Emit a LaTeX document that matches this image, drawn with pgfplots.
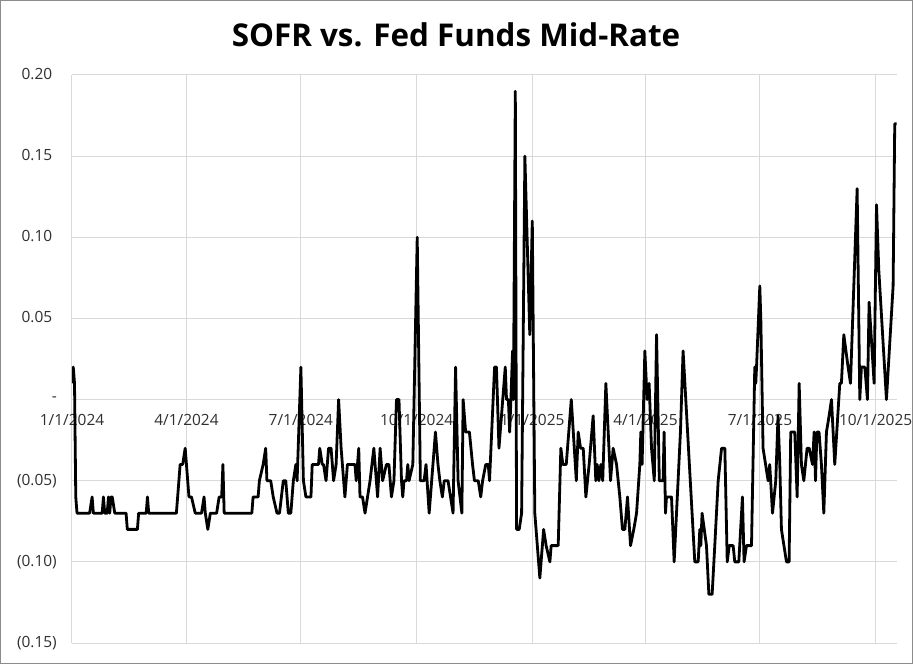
\documentclass[border=0pt]{standalone}
\usepackage{pgfplots}
\pgfplotsset{compat=1.18}
\usepackage{fontspec}
\setmainfont{Open Sans}
\definecolor{gridgray}{HTML}{D9D9D9}
\definecolor{labelgray}{HTML}{303030}
\definecolor{framegray}{HTML}{8C8C8C}

\begin{document}
\begin{tikzpicture}
% frame of the chart area (image border)
\draw[framegray, line width=1.5bp, fill=white] (-71.25bp,-20.25bp) rectangle (840.25bp,642.25bp);
\node[font=\bfseries\fontsize{31.5}{36}\selectfont, anchor=center] at (384bp,608bp) {SOFR vs. Fed Funds Mid-Rate};
\begin{axis}[
  at={(0,0)}, anchor=south west,
  scale only axis,
  width=825bp, height=568bp,
  xmin=0, xmax=656,
  ymin=-0.15, ymax=0.20,
  axis x line*=middle,
  axis y line*=left,
  hide obscured x ticks=false,
  hide obscured y ticks=false,
  axis line style={draw=none},
  major tick length=0pt,
  % days since 1/1/2024
  xtick={0,91,182,274,366,456,547,639},
  xticklabels={1/1/2024,4/1/2024,7/1/2024,10/1/2024,1/1/2025,4/1/2025,7/1/2025,10/1/2025},
  ytick={-0.15,-0.10,-0.05,0,0.05,0.10,0.15,0.20},
  yticklabels={(0.15),(0.10),(0.05),{-\hspace{15bp}},0.05\phantom{)},0.10\phantom{)},0.15\phantom{)},0.20\phantom{)}},
  grid=major,
  major grid style={gridgray, line width=1bp},
  ticklabel style={font=\fontsize{15.5}{18}\selectfont, text=labelgray, inner sep=0pt},
  xticklabel style={anchor=north, yshift=-15bp},
  yticklabel style={anchor=east, xshift=-15bp},
]
\addplot[black, line width=2.8bp, line join=round, no marks] coordinates {
(0,0.01)(1,0.02)(2,0.01)(3,-0.06)(4,-0.07)(14,-0.07)(16,-0.06)(17,-0.07)(24,-0.07)(25,-0.06)
(26,-0.07)(28,-0.07)(29,-0.06)(30,-0.07)(31,-0.06)(32,-0.06)(34,-0.07)(43,-0.07)(44,-0.08)(52,-0.08)
(53,-0.07)(59,-0.07)(60,-0.06)(61,-0.07)(83,-0.07)(84,-0.06)(86,-0.04)(88,-0.04)(90,-0.03)(91,-0.04)
(93,-0.06)(95,-0.06)(98,-0.07)(103,-0.07)(105,-0.06)(106,-0.07)(108,-0.08)(110,-0.07)(115,-0.07)(117,-0.06)
(119,-0.06)(120,-0.04)(121,-0.07)(143,-0.07)(144,-0.06)(148,-0.06)(149,-0.05)(152,-0.04)(154,-0.03)(155,-0.05)
(158,-0.05)(160,-0.06)(163,-0.07)(165,-0.07)(168,-0.05)(170,-0.05)(172,-0.07)(174,-0.07)(176,-0.05)(178,-0.04)
(179,-0.05)(182,0.02)(184,-0.05)(186,-0.06)(190,-0.06)(191,-0.04)(196,-0.04)(197,-0.03)(199,-0.04)(200,-0.04)
(202,-0.05)(204,-0.03)(206,-0.03)(208,-0.05)(210,-0.04)(212,0.00)(214,-0.03)(217,-0.06)(219,-0.04)(225,-0.04)
(226,-0.05)(228,-0.03)(229,-0.06)(231,-0.06)(233,-0.07)(237,-0.05)(240,-0.03)(243,-0.06)(245,-0.03)(247,-0.05)
(250,-0.04)(252,-0.04)(254,-0.06)(256,-0.05)(258,0.00)(260,0.00)(262,-0.05)(263,-0.06)(264,-0.05)(266,-0.05)
(267,-0.04)(268,-0.05)(271,-0.04)(274.5,0.10)(277,-0.05)(280,-0.05)(281.5,-0.04)(284,-0.07)(286,-0.05)(289,-0.02)
(291,-0.04)(292.5,-0.05)(294.5,-0.06)(296,-0.05)(299,-0.05)(301,-0.06)(303,-0.07)(305,0.02)(307,-0.05)(310,-0.07)
(311,0.00)(313,-0.02)(316,-0.02)(318.5,-0.04)(320,-0.05)(323,-0.05)(325,-0.06)(326.5,-0.05)(329,-0.04)(331,-0.04)
(332,-0.05)(336,0.02)(337.5,0.02)(339.5,-0.03)(344.5,0.02)(345.5,0.00)(347,0.00)(348,-0.02)(349,0.00)(350.3,0.03)
(351,0.00)(352.5,0.19)(353.5,-0.08)(355.6,-0.08)(357.5,-0.07)(360.1,0.15)(364,0.04)(366,0.11)(368,-0.07)(372,-0.11)
(375,-0.08)(377,-0.09)(380,-0.10)(381,-0.09)(386.6,-0.09)(388.7,-0.03)(390.3,-0.04)(393,-0.04)(394,-0.03)(397,0.00)
(401,-0.05)(402.5,-0.02)(404.4,-0.03)(406.5,-0.03)(408.6,-0.06)(411.2,-0.04)(414.4,-0.01)(416.5,-0.05)(417.6,-0.04)(419,-0.05)
(420.5,-0.04)(422,-0.05)(424.5,0.01)(428.2,-0.05)(430.3,-0.03)(433,-0.04)(435.6,-0.06)(437.7,-0.08)(439.6,-0.08)(441.7,-0.06)
(444.1,-0.09)(446.7,-0.08)(448.9,-0.07)(451.5,-0.04)(452.3,-0.02)(453.3,-0.04)(455.5,0.03)(457.3,0.00)(458.9,0.01)(460.8,-0.03)
(463,-0.05)(464.8,0.04)(467,-0.05)(470,-0.05)(470.8,-0.02)(471.9,-0.07)(472.7,-0.06)(476.7,-0.06)(478.8,-0.10)(483.8,-0.02)
(485.9,0.03)(495.2,-0.10)(497.9,-0.10)(499.2,-0.08)(500,-0.09)(501,-0.07)(504.5,-0.09)(506.4,-0.12)(509,-0.12)(511.1,-0.09)
(513.8,-0.05)(516.5,-0.03)(519.1,-0.03)(521,-0.10)(522.6,-0.09)(525.7,-0.09)(527,-0.10)(530.2,-0.10)(533.1,-0.06)(534.4,-0.10)
(536.3,-0.09)(540.3,-0.09)(542.9,0.02)(543.7,0.01)(544.3,0.02)(546.9,0.07)(547.7,0.05)(549.5,-0.03)(553.5,-0.05)(554.8,-0.04)
(557,-0.07)(559.6,-0.05)(561.4,-0.01)(562.8,-0.04)(564.1,-0.08)(568.1,-0.10)(570.2,-0.10)(571.5,-0.02)(574.7,-0.02)(576.6,-0.06)
(578.2,0.01)(580,-0.04)(581.9,-0.05)(584.5,-0.03)(586.2,-0.03)(588.8,-0.04)(590.1,-0.02)(591.2,-0.05)(592.3,-0.02)(594,-0.02)
(595.9,-0.04)(597.8,-0.07)(599.9,-0.02)(602,-0.01)(603.9,0.00)(606.5,-0.04)(610.5,0.01)(611.8,0.01)(613.7,0.04)(617.1,0.02)
(619,0.01)(624.3,0.13)(626.4,0.00)(627.7,0.02)(630.4,0.02)(632.5,0.00)(633.8,0.06)(637.8,0.01)(639.7,0.12)(641.5,0.08)
(647.6,0.00)(652.9,0.07)(654.2,0.17)(655.6,0.17)
};
\end{axis}
\end{tikzpicture}
\end{document}
